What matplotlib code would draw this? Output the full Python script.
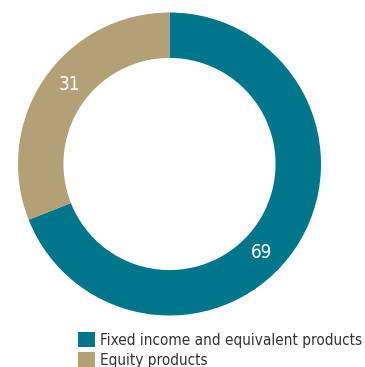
import matplotlib
matplotlib.use("Agg")
import matplotlib.pyplot as plt
from matplotlib.patches import Patch
import numpy as np

categories = ["Fixed income and equivalent products", "Equity products"]
values = [69, 31]
colors = ["#00758c", "#b3a077"]

plt.rcParams["font.family"] = ["DejaVu Sans"]
plt.rcParams["font.stretch"] = "condensed"

fig = plt.figure(figsize=(3.65, 3.67), dpi=100)
W, H = 365, 367
cx, cy, r = 169.5, 164, 151.5
ax = fig.add_axes([(cx - r) / W, (H - cy - r) / H, 2 * r / W, 2 * r / H])
ax.set_aspect("equal")

wedges, _ = ax.pie(values, colors=colors, startangle=90, counterclock=False,
                   radius=1.0, wedgeprops=dict(width=0.30, linewidth=0))
ax.set_xlim(-1, 1)
ax.set_ylim(-1, 1)

# label positions (angle in degrees, radius in axis units)
label_angles = [-44, 141.5]
for val, ang in zip(values, label_angles):
    a = np.deg2rad(ang)
    ax.text(0.84 * np.cos(a), 0.84 * np.sin(a), str(val), ha="center",
            va="center", color="white", fontsize=13.5)

handles = [Patch(facecolor=c, edgecolor="none") for c in colors]
leg = fig.legend(handles, categories, loc="upper left",
                 bbox_to_anchor=(78 / W, 1 - 332 / H), frameon=False,
                 fontsize=11, handlelength=1.1, handleheight=1.1,
                 handletextpad=0.35, labelspacing=0.3, borderpad=0,
                 borderaxespad=0, labelcolor="#333333")

fig.savefig("out.png", dpi=100, facecolor="white")
